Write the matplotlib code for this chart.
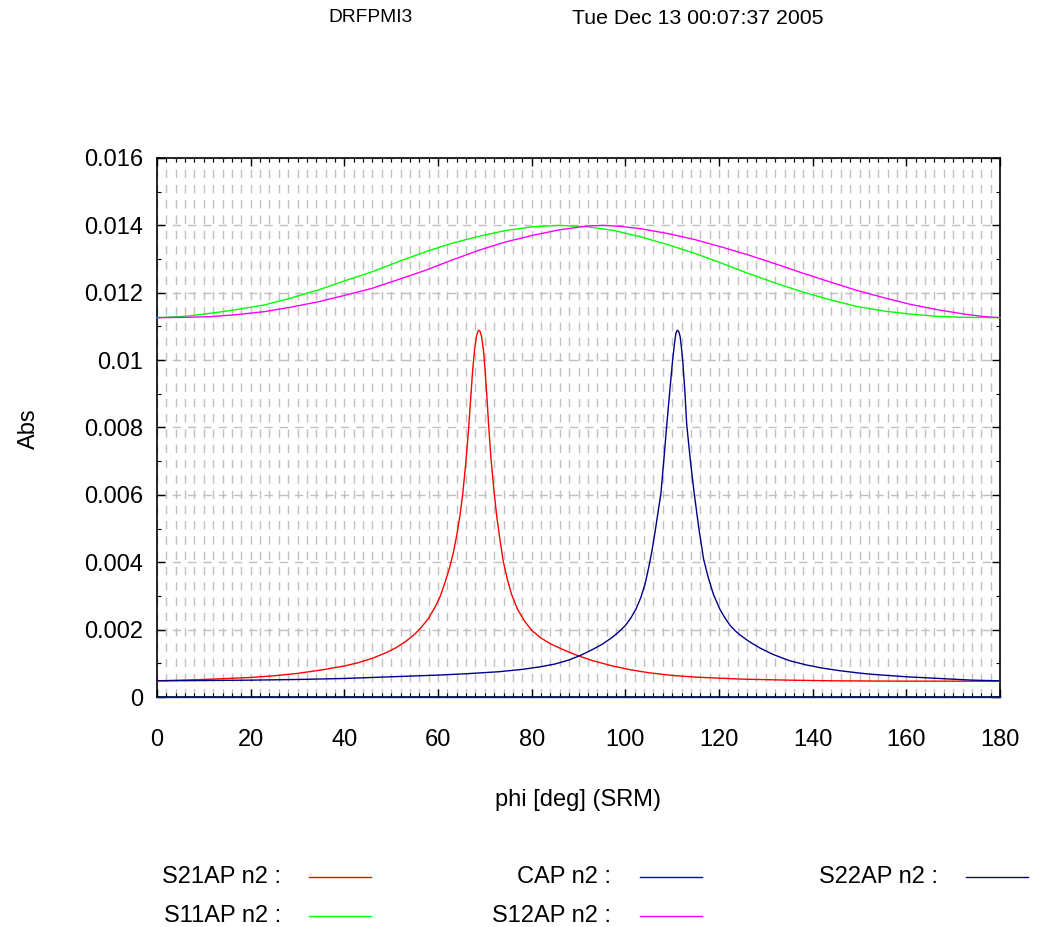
import matplotlib
matplotlib.use("Agg")
import matplotlib.pyplot as plt
from matplotlib.ticker import MultipleLocator, FormatStrFormatter
from matplotlib.lines import Line2D

plt.rcParams['font.family'] = ['Liberation Sans', 'DejaVu Sans']

# values (y in units of 1e-3)
s21_x = [0, 5, 10, 15, 20, 25, 30, 35, 40, 43, 46, 49, 51, 53, 55, 56.5, 58, 59.5,
         60.5, 61.5, 62.5, 63.3, 64.0, 64.7, 65.3, 65.9, 66.5, 67.0, 67.4, 67.8,
         68.2, 68.5, 68.75, 69.0, 69.3, 69.7, 70.0, 70.4, 70.8, 71.3, 72.0, 72.6,
         73.2, 73.9, 74.8, 75.7, 77, 78.5, 80, 82, 84, 86, 88, 90, 93, 97, 101, 105,
         110, 115, 120, 125, 135, 145, 160, 180]
s21_y = [0.48, 0.50, 0.52, 0.55, 0.58, 0.63, 0.70, 0.80, 0.92, 1.02, 1.15, 1.32, 1.46,
         1.64, 1.86, 2.08, 2.34, 2.70, 3.0, 3.40, 3.85, 4.3, 4.8, 5.4, 6.05, 6.9,
         7.9, 8.9, 9.7, 10.3, 10.7, 10.85, 10.89, 10.85, 10.7, 10.3, 9.8, 9.0, 8.1,
         7.1, 6.05, 5.3, 4.7, 4.05, 3.5, 3.05, 2.6, 2.25, 1.98, 1.75, 1.58, 1.45,
         1.33, 1.22, 1.08, 0.93, 0.81, 0.72, 0.64, 0.59, 0.56, 0.53, 0.50, 0.48,
         0.47, 0.47]

s22_x = [0, 10, 20, 30, 40, 50, 60, 66, 73, 78, 82, 85, 88, 90.5, 93, 95, 97, 98.5,
         100, 101.2, 102.3, 103.3, 104.2, 105.0, 105.7, 106.4, 107.0, 107.6, 108.2,
         108.8, 109.5, 110.1, 110.5, 110.8, 111.1, 111.4, 111.7, 112.0, 112.3, 112.7,
         113.1, 113.9, 114.7, 115.7, 116.7, 117.6, 118.8, 120.2, 121.3, 122.4, 123.5,
         124.5, 126.5, 128.8, 131.6, 135, 138.7, 142, 145.8, 150, 153, 160, 167, 174,
         180]
s22_y = [0.48, 0.49, 0.50, 0.52, 0.55, 0.60, 0.65, 0.69, 0.75, 0.82, 0.90, 0.98, 1.10,
         1.24, 1.41, 1.56, 1.75, 1.92, 2.12, 2.35, 2.62, 2.95, 3.35, 3.85, 4.35, 4.95,
         5.5, 6.05, 7.0, 8.0, 9.1, 10.0, 10.5, 10.8, 10.89, 10.85, 10.7, 10.35, 9.9,
         9.1, 8.1, 7.0, 6.05, 5.0, 4.1, 3.6, 3.05, 2.6, 2.34, 2.12, 1.96, 1.84, 1.64,
         1.45, 1.26, 1.08, 0.95, 0.86, 0.78, 0.71, 0.67, 0.60, 0.55, 0.50, 0.48]

cap_x = [0, 180]
cap_y = [0.0, 0.0]

s11_x = [0, 6, 11.5, 17, 23, 28.5, 34.4, 40, 45.9, 51.5, 57.4, 63, 68.9, 74.5, 80.4,
         86, 91.8, 97.5, 103.3, 109, 114.8, 120.5, 126.3, 132, 137.7, 143.5, 149.2,
         155, 160.7, 166.5, 172.2, 180]
s11_y = [11.26, 11.30, 11.39, 11.50, 11.64, 11.84, 12.08, 12.35, 12.62, 12.92, 13.22,
         13.47, 13.68, 13.85, 13.96, 14.0, 13.96, 13.85, 13.66, 13.43, 13.17, 12.88,
         12.57, 12.29, 12.03, 11.80, 11.6, 11.46, 11.37, 11.30, 11.27, 11.26]

s12_x = [0, 5.7, 11.5, 17, 23, 28.5, 34.4, 40, 45.9, 51.5, 57.4, 63, 68.9, 74.5, 80.4,
         86, 91.8, 95.3, 99, 103.3, 109, 114.8, 120.5, 126.3, 132, 137.7, 143.5,
         149.2, 155, 160.7, 166.5, 172.2, 176, 180]
s12_y = [11.26, 11.27, 11.29, 11.35, 11.44, 11.57, 11.73, 11.92, 12.13, 12.39, 12.67,
         12.97, 13.27, 13.51, 13.71, 13.87, 13.98, 14.0, 13.97, 13.9, 13.76, 13.58,
         13.36, 13.12, 12.86, 12.59, 12.33, 12.08, 11.86, 11.66, 11.50, 11.37, 11.30,
         11.26]

series = [
    ("S21AP n2 :", s21_x, s21_y, "#ff0000"),
    ("CAP n2 :", cap_x, cap_y, "#0000ff"),
    ("S22AP n2 :", s22_x, s22_y, "#00008b"),
    ("S11AP n2 :", s11_x, s11_y, "#00ff00"),
    ("S12AP n2 :", s12_x, s12_y, "#ff00ff"),
]

W, H = 1037, 927
fig = plt.figure(figsize=(W / 100, H / 100), dpi=100)
ax = fig.add_axes([157 / W, 1 - 697 / H, 843 / W, 539 / H])

for name, xs, ys, col in series:
    ax.plot(xs, [v * 1e-3 for v in ys], color=col, lw=1.0, clip_on=False, zorder=3)

ax.set_xlim(0, 180)
ax.set_ylim(0, 0.016)
ax.xaxis.set_major_locator(MultipleLocator(20))
ax.xaxis.set_minor_locator(MultipleLocator(2))
ax.yaxis.set_major_locator(MultipleLocator(0.002))
ax.yaxis.set_minor_locator(MultipleLocator(0.001))
ax.yaxis.set_major_formatter(FormatStrFormatter('%g'))

ax.tick_params(which='both', direction='in', top=True, right=True, labelsize=17, colors='black')
ax.tick_params(which='major', length=6, width=1)
ax.tick_params(which='minor', length=3, width=0.8)
ax.tick_params(axis='x', which='major', pad=23)
ax.tick_params(axis='y', which='major', pad=10)

ax.grid(True, which='both', axis='x', color='#c0c0c0', lw=1.0, dashes=(6, 5))
ax.grid(True, which='major', axis='y', color='#c0c0c0', lw=1.0, dashes=(6, 5))
ax.set_axisbelow(True)
for sp in ax.spines.values():
    sp.set_linewidth(1.2)

fig.text(578 / W, 1 - 800 / H, "phi [deg] (SRM)", ha='center', va='center', fontsize=17)
fig.text(29 / W, 1 - 429 / H, "Abs", ha='center', va='center', rotation=90, fontsize=17)

fig.text(370 / W, 1 - 18 / H, "DRFPMI3", ha='center', va='center', fontsize=13.8)
fig.text(698 / W, 1 - 18 / H, "Tue Dec 13 00:07:37 2005", ha='center', va='center', fontsize=15.3)

# gnuplot style key: right aligned label followed by a sample line
key_cols = [(281, 309, 371), (611, 640, 702), (938, 966, 1028)]
key_rows = [877, 916]
for i, (name, xs, ys, col) in enumerate(series):
    c, r = i % 3, i // 3
    tx, l0, l1 = key_cols[c]
    y = 1 - key_rows[r] / H
    fig.text(tx / W, y, name, ha='right', va='center', fontsize=17)
    fig.add_artist(Line2D([l0 / W, l1 / W], [y, y], color=col, lw=1.0))

fig.savefig("out.png", dpi=100)
